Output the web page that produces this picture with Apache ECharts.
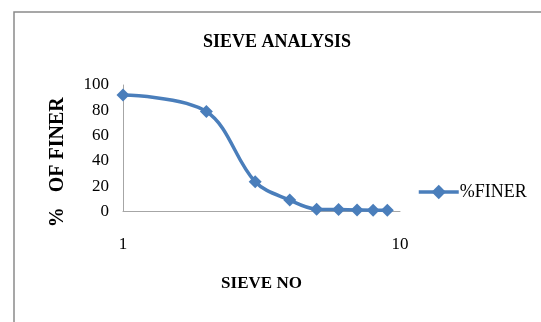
<!DOCTYPE html>
<html>
<head>
<meta charset="utf-8">
<script src="https://cdn.jsdelivr.net/npm/echarts@6/dist/echarts.min.js"></script>
<style>
  html, body { margin: 0; padding: 0; background: #fff; }
  #chart { width: 541px; height: 322px; }
</style>
</head>
<body>
<div id="chart"></div>
<script>
// Sieve numbers and the percentage of material passing each one
const sieveNo = [1, 2, 3, 4, 5, 6, 7, 8, 9];
const percentFiner = [92, 79, 23.5, 9, 1.8, 1.5, 1.2, 1, 1];
const yTicks = [0, 20, 40, 60, 80, 100];

const serif = '"Liberation Serif", "Times New Roman", serif';
const blue = '#4A7EBB';

const chart = echarts.init(document.getElementById('chart'), null, { renderer: 'canvas' });

chart.setOption({
  backgroundColor: '#fff',
  animation: false,
  graphic: [{
    type: 'rect',
    shape: { x: 14, y: 12, width: 560, height: 340 },
    style: { fill: 'none', stroke: '#8a8a8a', lineWidth: 1.5 },
    silent: true
  }],
  title: {
    text: 'SIEVE ANALYSIS',
    left: 272,
    top: 28,
    textAlign: 'center',
    textStyle: { fontFamily: serif, fontWeight: 'bold', fontSize: 18, color: '#000' }
  },
  legend: {
    data: ['%FINER'],
    left: 412,
    top: 178,
    itemWidth: 40,
    itemHeight: 18,
    itemGap: 4,
    lineStyle: { width: 3.5 },
    textStyle: { fontFamily: serif, fontSize: 18, color: '#000', padding: [0, 0, 0, -4] }
  },
  grid: { left: 123, right: 141, top: 85, bottom: 110.5 },
  xAxis: {
    type: 'log',
    logBase: 10,
    min: 1,
    max: 10,
    name: 'SIEVE NO',
    nameLocation: 'middle',
    nameGap: 64,
    nameTextStyle: { fontFamily: serif, fontWeight: 'bold', fontSize: 17, color: '#000' },
    axisLine: { lineStyle: { color: '#a6a6a6', width: 1 } },
    axisTick: { show: false },
    splitLine: { show: false },
    axisLabel: { fontFamily: serif, fontSize: 17, color: '#000', margin: 25 }
  },
  yAxis: {
    type: 'value',
    min: yTicks[0],
    max: yTicks[yTicks.length - 1],
    interval: yTicks[1] - yTicks[0],
    name: '%   OF FINER',
    nameLocation: 'middle',
    nameGap: 55,
    nameRotate: 90,
    nameTextStyle: { fontFamily: serif, fontWeight: 'bold', fontSize: 20, color: '#000', padding: [0, 0, 0, -28] },
    axisLine: { show: true, lineStyle: { color: '#a6a6a6', width: 1 } },
    axisTick: { show: false },
    splitLine: { show: false },
    axisLabel: { fontFamily: serif, fontSize: 17, color: '#000', margin: 14 }
  },
  series: [{
    name: '%FINER',
    type: 'line',
    data: sieveNo.map((s, i) => [s, percentFiner[i]]),
    smooth: 0.35,
    symbol: 'diamond',
    symbolSize: 13,
    lineStyle: { color: blue, width: 3.5 },
    itemStyle: { color: blue }
  }]
});
</script>
</body>
</html>
